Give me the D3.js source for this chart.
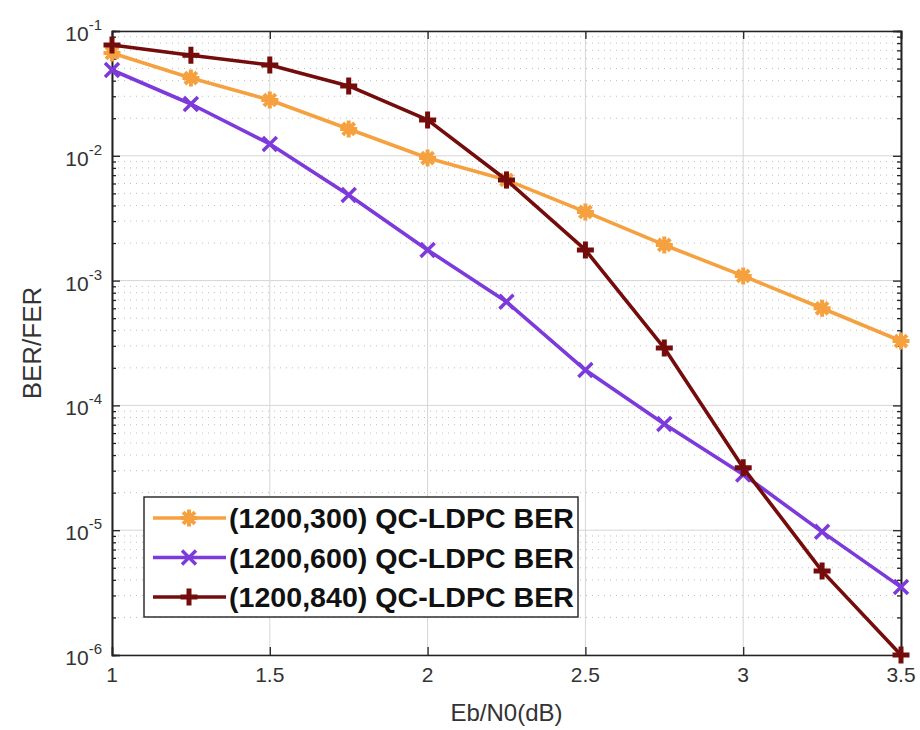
<!DOCTYPE html>
<html>
<head>
<meta charset="utf-8">
<script src="https://cdn.jsdelivr.net/npm/d3@7"></script>
<style>
  body { margin: 0; background: #fff; }
  svg { font-family: "Liberation Sans", Arial, sans-serif; }
</style>
</head>
<body>
<div id="chart"></div>
<script>
// data
var ebn0 = [1, 1.25, 1.5, 1.75, 2, 2.25, 2.5, 2.75, 3, 3.25, 3.5];
var ber300 = [0.0667, 0.042, 0.028, 0.0164, 0.0096, 0.0064, 0.00355, 0.00193, 0.00109, 6.0e-4, 3.28e-4];
var ber600 = [0.0487, 0.026, 0.01245, 0.00485, 0.00176, 6.76e-4, 1.92e-4, 7.1e-5, 2.8e-5, 9.7e-6, 3.5e-6];
var ber840 = [0.0773, 0.064, 0.0534, 0.0363, 0.0194, 0.0064, 0.00176, 2.88e-4, 3.16e-5, 4.7e-6, 1.0e-6];
var seriesNames = ["(1200,300) QC-LDPC BER", "(1200,600) QC-LDPC BER", "(1200,840) QC-LDPC BER"];
var xTicks = [1, 1.5, 2, 2.5, 3, 3.5];
var yExps = [-1, -2, -3, -4, -5, -6];

var W = 920, H = 730;
var margin = {top: 31, right: 19, bottom: 75, left: 112};
var width = W - margin.left - margin.right,
    height = H - margin.top - margin.bottom;

var series = [
    {name: seriesNames[0], values: ber300, color: "#f6a140", marker: "star"},
    {name: seriesNames[1], values: ber600, color: "#7d3adb", marker: "x"},
    {name: seriesNames[2], values: ber840, color: "#740c0c", marker: "plus"}
];

var svg = d3.select("#chart").append("svg")
    .attr("width", W).attr("height", H);
var g = svg.append("g")
    .attr("transform", "translate(" + margin.left + "," + margin.top + ")");

var x = d3.scaleLinear().domain([1, 3.5]).range([0, width]);
var y = d3.scaleLog().domain([1e-6, 1e-1]).range([height, 0]);

// minor grid (dotted) + major grid
var minors = [];
for (var e = -6; e < -1; e++) {
    for (var m = 2; m <= 9; m++) minors.push(m * Math.pow(10, e));
}
g.selectAll(".ygm").data(minors).enter().append("line")
    .attr("x1", 0).attr("x2", width)
    .attr("y1", d => y(d)).attr("y2", d => y(d))
    .attr("stroke", "#bdbdbd").attr("stroke-width", 1)
    .attr("stroke-dasharray", "1,5");
g.selectAll(".yg").data(yExps).enter().append("line")
    .attr("x1", 0).attr("x2", width)
    .attr("y1", d => y(Math.pow(10, d))).attr("y2", d => y(Math.pow(10, d)))
    .attr("stroke", "#d6d6d6").attr("stroke-width", 1);
g.selectAll(".xg").data(xTicks).enter().append("line")
    .attr("x1", d => x(d)).attr("x2", d => x(d))
    .attr("y1", 0).attr("y2", height)
    .attr("stroke", "#d6d6d6").attr("stroke-width", 1);

// axes box and inward ticks
var axisL = d3.axisLeft(y).tickValues(yExps.map(d => Math.pow(10, d))).tickSize(-8).tickFormat("");
var axisR = d3.axisRight(y).tickValues(yExps.map(d => Math.pow(10, d))).tickSize(-8).tickFormat("");
var axisB = d3.axisBottom(x).tickValues(xTicks).tickSize(-8).tickFormat("");
var axisT = d3.axisTop(x).tickValues(xTicks).tickSize(-8).tickFormat("");
g.append("g").call(axisL);
g.append("g").attr("transform", "translate(" + width + ",0)").call(axisR);
g.append("g").attr("transform", "translate(0," + height + ")").call(axisB);
g.append("g").call(axisT);
g.append("g").call(d3.axisLeft(y).tickValues(minors).tickSize(-4).tickFormat(""));
g.append("g").attr("transform", "translate(" + width + ",0)")
    .call(d3.axisRight(y).tickValues(minors).tickSize(-4).tickFormat(""));
g.selectAll(".domain").attr("stroke", "#222").attr("stroke-width", 1.6);
g.selectAll(".tick line").attr("stroke", "#222").attr("stroke-width", 1.3);

// tick labels
g.selectAll(".xl").data(xTicks).enter().append("text")
    .attr("x", d => x(d)).attr("y", height + 27)
    .attr("text-anchor", "middle")
    .style("font-size", "21px").attr("fill", "#333")
    .text(d => d);
var yl = g.selectAll(".yl").data(yExps).enter().append("text")
    .attr("x", -10).attr("y", d => y(Math.pow(10, d)) + 10)
    .attr("text-anchor", "end")
    .style("font-size", "21px").attr("fill", "#333");
yl.append("tspan").text("10");
yl.append("tspan").attr("dy", -11).style("font-size", "15px").text(d => d);

// axis labels
svg.append("text")
    .attr("x", margin.left + width / 2).attr("y", H - 9)
    .attr("text-anchor", "middle").style("font-size", "24px").attr("fill", "#333")
    .text("Eb/N0(dB)");
svg.append("text")
    .attr("transform", "translate(41," + (margin.top + height / 2) + ") rotate(-90)")
    .attr("text-anchor", "middle").style("font-size", "26px").attr("fill", "#333")
    .text("BER/FER");

// lines
var line = d3.line().x((d, i) => x(ebn0[i])).y(d => y(d));

function drawMarker(sel, type, color, s) {
    var p;
    if (type === "plus") {
        p = "M" + (-s) + ",0H" + s + "M0," + (-s) + "V" + s;
        sel.append("path").attr("d", p).attr("stroke", color).attr("stroke-width", 5).attr("fill", "none");
    } else if (type === "x") {
        p = "M" + (-s) + "," + (-s) + "L" + s + "," + s + "M" + (-s) + "," + s + "L" + s + "," + (-s);
        sel.append("path").attr("d", p).attr("stroke", color).attr("stroke-width", 3.5).attr("fill", "none");
    } else {
        var a = s * 0.7;
        p = "M" + (-s) + ",0H" + s + "M0," + (-s) + "V" + s +
            "M" + (-a) + "," + (-a) + "L" + a + "," + a + "M" + (-a) + "," + a + "L" + a + "," + (-a);
        sel.append("path").attr("d", p).attr("stroke", color).attr("stroke-width", 4).attr("fill", "none");
        sel.append("circle").attr("r", s * 0.6).attr("fill", color);
    }
}

var sizes = {star: 8.5, x: 7, plus: 8.5};
series.forEach(function (s) {
    g.append("path").datum(s.values)
        .attr("d", line)
        .attr("fill", "none").attr("stroke", s.color).attr("stroke-width", 3.6)
        .attr("stroke-linejoin", "round");
    g.selectAll(null).data(s.values).enter().append("g")
        .attr("transform", (d, i) => "translate(" + x(ebn0[i]) + "," + y(d) + ")")
        .each(function () { drawMarker(d3.select(this), s.marker, s.color, sizes[s.marker]); });
});

// legend
var lg = svg.append("g").attr("transform", "translate(144,497)");
lg.append("rect").attr("width", 434).attr("height", 120)
    .attr("fill", "#fff").attr("stroke", "#222").attr("stroke-width", 1.4);
series.forEach(function (s, i) {
    var row = lg.append("g").attr("transform", "translate(0," + (21 + i * 39.5) + ")");
    row.append("line").attr("x1", 9).attr("x2", 82).attr("y1", 0).attr("y2", 0)
        .attr("stroke", s.color).attr("stroke-width", 3.6);
    var mk = row.append("g").attr("transform", "translate(45,0)");
    drawMarker(mk, s.marker, s.color, sizes[s.marker]);
    row.append("text").attr("x", 85).attr("y", 10)
        .attr("textLength", 345).attr("lengthAdjust", "spacingAndGlyphs")
        .style("font-size", "28px").style("font-weight", "bold").attr("fill", "#111")
        .text(s.name);
});
</script>
</body>
</html>
